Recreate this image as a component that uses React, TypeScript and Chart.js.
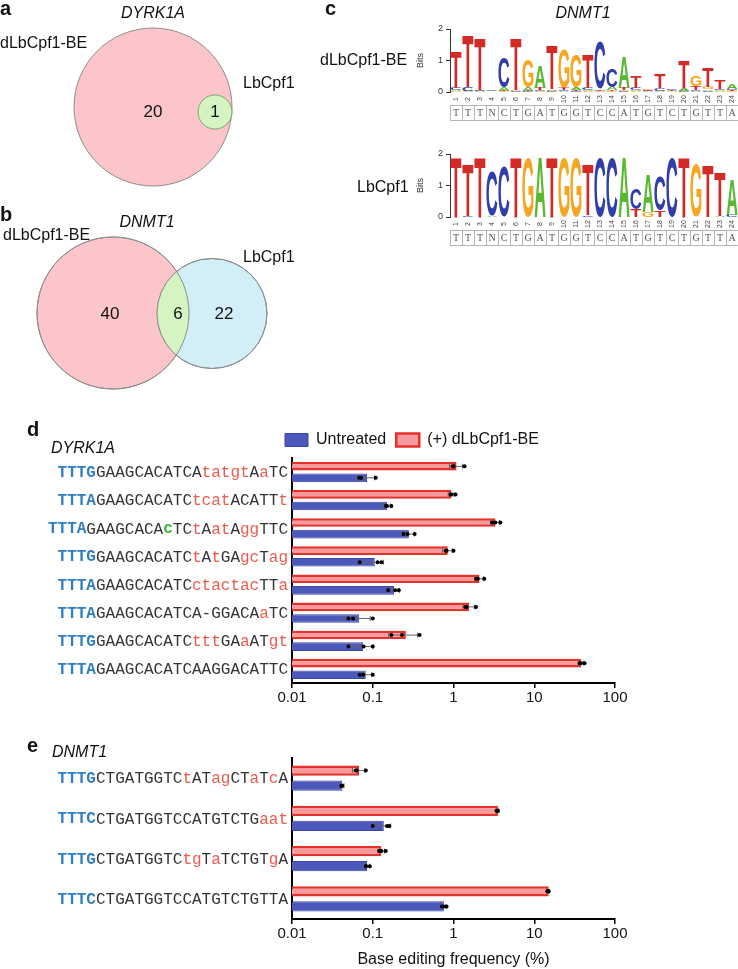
import React, { useEffect, useRef } from "react";
import { Chart, registerables } from "chart.js";
Chart.register(...registerables);

// ---------------- DATA ----------------
// Panel d (DYRK1A)
const dCategories = [
  "TTTGGAAGCACATCAtatgtAaTC",
  "TTTAGAAGCACATCtcatACATTt",
  "TTTAGAAGCACAcTCtAatAggTTC",
  "TTTGGAAGCACATCtAtGAgcTag",
  "TTTAGAAGCACATCctactacTTa",
  "TTTAGAAGCACATCA-GGACAaTC",
  "TTTGGAAGCACATCtttGAaATgt",
  "TTTAGAAGCACATCAAGGACATTC",
];
const dInserted = [-1, -1, 12, -1, -1, -1, -1, -1];
const dBE = [1.09, 0.94, 3.3, 0.85, 2.1, 1.56, 0.257, 38];
const dUntreated = [0.085, 0.15, 0.28, 0.106, 0.184, 0.068, 0.076, 0.082];
const dBEErr = [0.2, 0.08, 0.4, 0.12, 0.25, 0.25, 0.1, 3];
const dUntreatedErr = [0.02, 0.015, 0.05, 0.03, 0.03, 0.025, 0.025, 0.015];
const dBEReps = [
  [0.98, 1.0, 1.37], [0.92, 0.95, 1.06], [3.0, 3.3, 3.8], [0.8, 0.82, 1.0],
  [1.9, 2.0, 2.4], [1.4, 1.45, 1.9], [0.17, 0.23, 0.38], [36.5, 38, 42],
];
const dUntreatedReps = [
  [0.068, 0.072, 0.109], [0.145, 0.15, 0.17], [0.24, 0.27, 0.33], [0.069, 0.115, 0.128],
  [0.155, 0.19, 0.21], [0.05, 0.057, 0.1], [0.05, 0.077, 0.1], [0.069, 0.076, 0.1],
];

// Panel e (DNMT1)
const eCategories = [
  "TTTGCTGATGGTCtATagCTaTcA",
  "TTTCCTGATGGTCCATGTCTGaat",
  "TTTGCTGATGGTCtgTaTCTGTgA",
  "TTTCCTGATGGTCCATGTCTGTTA",
];
const eInserted = [-1, -1, -1, -1];
const eBE = [0.068, 3.55, 0.128, 15.1];
const eUntreated = [0.042, 0.137, 0.085, 0.76];
const eBEErr = [0.012, 0.1, 0.012, 0.3];
const eUntreatedErr = [0.002, 0.03, 0.006, 0.05];
const eBEReps = [[0.062, 0.063, 0.082], [3.4, 3.5, 3.55], [0.12, 0.128, 0.145], [14.5, 14.8, 15.1]];
const eUntreatedReps = [[0.041, 0.041, 0.042], [0.1, 0.15, 0.16], [0.082, 0.083, 0.092], [0.72, 0.76, 0.82]];

const xTicks = [0.01, 0.1, 1, 10, 100];

// Panel c (sequence logos, bits per base)
const logoPositions = ["1","2","3","4","5","6","7","8","9","10","11","12","13","14","15","16","17","18","19","20","21","22","23","24"];
const logoConsensus = ["T","T","T","N","C","T","G","A","T","G","G","T","C","C","A","T","G","T","C","T","G","T","T","A"];
const logoBases = ["A", "C", "G", "T"];
const beA = [0.04,0.02,0.02,0.01,0.12,0.01,0.1,0.7,0.05,0.03,0.08,0.03,0.02,0.1,1.0,0.03,0.02,0.02,0.02,0.08,0.03,0.05,0.03,0.18];
const beC = [0.06,0.12,0.03,0.03,0.95,0.02,0.02,0.03,0.02,0.03,0.03,0.06,1.5,0.6,0.03,0.08,0.02,0.1,0.04,0.02,0.03,0.04,0.05,0.04];
const beG = [0.03,0.02,0.02,0.01,0.02,0.02,0.88,0.02,0.02,1.2,1.05,0.04,0.02,0.02,0.03,0.03,0.05,0.02,0.01,0.02,0.35,0.08,0.03,0.02];
const beT = [1.15,1.65,1.65,0.01,0.02,1.65,0.02,0.08,1.42,0.07,0.03,1.05,0.05,0.04,0.08,0.35,0.03,0.45,0.02,0.85,0.12,0.6,0.3,0.03];
const lbA = [0,0,0,0.05,0,0,0,1.88,0,0,0,0,0,0,1.88,0,1.2,0,0,0,0,0,0.04,1.1];
const lbC = [0,0.03,0,1.4,1.58,0,0,0,0,0,0,0.05,1.88,1.88,0,0.65,0,1.1,1.88,0,0,0,0,0.06];
const lbG = [0,0,0,0,0,0,1.88,0,0,1.88,1.88,0,0,0,0,0,0.15,0,0,0,1.68,0,0,0];
const lbT = [1.88,1.66,1.88,0,0,1.88,0,0,1.88,0,0,1.62,0,0,0,0.25,0,0.2,0,1.88,0,1.66,1.42,0];

// Panels a, b (Venn diagrams) — centres in layout units, r in px
const vennBE = [{ x: 153, y: 107, r: 79 }, { x: 113, y: 313, r: 76 }];
const vennLbB = [{ x: 212, y: 313.5, r: 55 }];
const vennLbA = [{ x: 215, y: 112, r: 17 }];
const vennCounts = [
  { text: "20", x: 153, y: 112 }, { text: "1", x: 215, y: 112 },
  { text: "40", x: 110, y: 314 }, { text: "6", x: 178, y: 314 }, { text: "22", x: 224, y: 314 },
];

// ---------------- STYLE ----------------
const SANS = '"Liberation Sans", Arial, Helvetica, sans-serif';
const MONO = '"Liberation Mono", "DejaVu Sans Mono", monospace';
const RED_FILL = "#f89a9c";
const RED_EDGE = "#e6302c";
const BLUE_FILL = "#4d59ba";
const BLUE_EDGE = "#3a45a6";
const SEQ_BLUE = "#2f7fc4";
const SEQ_RED = "#ec5a4c";
const SEQ_GREEN = "#3cb43c";
const SEQ_DARK = "#333";
const LOGO_COLORS: Record<string, string> = { A: "#58b830", C: "#2f3ea8", G: "#f5a623", T: "#d42a25" };

// ---------------- PLUGINS ----------------
const seqLabelPlugin = {
  id: "seqLabels",
  afterDraw(chart: any, _a: any, opts: any) {
    const { ctx, chartArea } = chart;
    const yS = chart.scales.y;
    const inserted: number[] = opts.inserted || [];
    ctx.save();
    ctx.textBaseline = "middle";
    ctx.textAlign = "left";
    const fN = `16px ${MONO}`;
    const fB = `bold 16px ${MONO}`;
    (chart.data.labels as string[]).forEach((lab, i) => {
      const y = yS.getPixelForValue(i);
      const chars = lab.split("");
      const fonts = chars.map((c, j) => (j < 4 || j === inserted[i] ? fB : fN));
      let total = 0;
      chars.forEach((c, j) => { ctx.font = fonts[j]; total += ctx.measureText(c).width; });
      let x = chartArea.left - 4 - total;
      chars.forEach((c, j) => {
        let color = SEQ_DARK;
        if (j < 4) color = SEQ_BLUE;
        else if (j === inserted[i]) color = SEQ_GREEN;
        else if (c !== c.toUpperCase()) color = SEQ_RED;
        ctx.font = fonts[j];
        ctx.fillStyle = color;
        ctx.fillText(c, x, y + 1);
        x += ctx.measureText(c).width;
      });
    });
    ctx.restore();
  },
};

const repsPlugin = {
  id: "reps",
  afterDatasetsDraw(chart: any) {
    const { ctx } = chart;
    const xS = chart.scales.x;
    chart.data.datasets.forEach((ds: any, di: number) => {
      const meta = chart.getDatasetMeta(di);
      meta.data.forEach((bar: any, i: number) => {
        const y = bar.y;
        const mean = ds.data[i];
        const err = ds.errors[i];
        const xl = xS.getPixelForValue(Math.max(mean - err, 0.0101));
        const xr = xS.getPixelForValue(mean + err);
        ctx.save();
        ctx.strokeStyle = "#666";
        ctx.lineWidth = 1;
        ctx.beginPath();
        ctx.moveTo(xl, y); ctx.lineTo(xr, y);
        ctx.moveTo(xl, y - 2.5); ctx.lineTo(xl, y + 2.5);
        ctx.moveTo(xr, y - 2.5); ctx.lineTo(xr, y + 2.5);
        ctx.stroke();
        ctx.fillStyle = "#000";
        ds.reps[i].forEach((v: number) => {
          ctx.beginPath();
          ctx.arc(xS.getPixelForValue(v), y, 2, 0, Math.PI * 2);
          ctx.fill();
        });
        ctx.restore();
      });
    });
  },
};

function drawLetter(ctx: CanvasRenderingContext2D, L: string, x: number, y: number, w: number, h: number, color: string) {
  if (h < 0.4) return;
  ctx.save();
  ctx.font = `bold 100px ${SANS}`;
  const m = ctx.measureText(L);
  const gw = m.actualBoundingBoxLeft + m.actualBoundingBoxRight;
  const gh = m.actualBoundingBoxAscent + m.actualBoundingBoxDescent;
  ctx.translate(x, y);
  ctx.scale(w / gw, h / gh);
  ctx.fillStyle = color;
  ctx.textAlign = "left";
  ctx.textBaseline = "alphabetic";
  ctx.fillText(L, m.actualBoundingBoxLeft, m.actualBoundingBoxAscent);
  ctx.restore();
}

const logoPlugin = {
  id: "logo",
  afterDatasetsDraw(chart: any, _a: any, opts: any) {
    const { ctx, chartArea } = chart;
    const xS = chart.scales.x;
    const yS = chart.scales.y;
    const n = chart.data.labels.length;
    const step = xS.getPixelForValue(1) - xS.getPixelForValue(0);
    for (let i = 0; i < n; i++) {
      const cx = xS.getPixelForValue(i);
      const items = chart.data.datasets
        .map((ds: any) => ({ L: ds.label, v: ds.data[i] }))
        .sort((a: any, b: any) => a.v - b.v);
      let cum = 0;
      const w = step * 0.92;
      items.forEach((it: any) => {
        const yb = yS.getPixelForValue(cum);
        const yt = yS.getPixelForValue(cum + it.v);
        cum += it.v;
        drawLetter(ctx, it.L, cx - w / 2, yt, w, yb - yt, LOGO_COLORS[it.L]);
      });
      ctx.save();
      ctx.translate(cx, chartArea.bottom + 7);
      ctx.rotate(-Math.PI / 2);
      ctx.font = `7px ${SANS}`;
      ctx.fillStyle = "#444";
      ctx.textAlign = "center";
      ctx.textBaseline = "middle";
      ctx.fillText(chart.data.labels[i], 0, 0);
      ctx.restore();
      const top = chartArea.bottom + 13;
      ctx.save();
      ctx.strokeStyle = "#b5b5b5";
      ctx.lineWidth = 1;
      ctx.strokeRect(cx - step / 2 + 0.5, top + 0.5, step, 15);
      ctx.font = `10px "Liberation Serif", serif`;
      ctx.fillStyle = "#555";
      ctx.textAlign = "center";
      ctx.textBaseline = "middle";
      ctx.fillText(opts.consensus[i], cx, top + 8.5);
      ctx.restore();
    }
  },
};

const vennPlugin = {
  id: "venn",
  afterDatasetsDraw(chart: any, _a: any, opts: any) {
    const { ctx } = chart;
    const xS = chart.scales.x;
    const yS = chart.scales.y;
    const be = chart.getDatasetMeta(2).data[1];
    const lb = chart.getDatasetMeta(1).data[0];
    ctx.save();
    ctx.beginPath();
    ctx.arc(be.x, be.y, be.options.radius, 0, Math.PI * 2);
    ctx.clip();
    ctx.beginPath();
    ctx.arc(lb.x, lb.y, lb.options.radius, 0, Math.PI * 2);
    ctx.fillStyle = "#d6f3c2";
    ctx.fill();
    ctx.restore();
    ctx.save();
    ctx.strokeStyle = "#8c8c8c";
    ctx.lineWidth = 1;
    [be, lb].forEach((el: any) => {
      ctx.beginPath();
      ctx.arc(el.x, el.y, el.options.radius, 0, Math.PI * 2);
      ctx.stroke();
    });
    ctx.font = `17px ${SANS}`;
    ctx.fillStyle = "#111";
    ctx.textAlign = "center";
    ctx.textBaseline = "middle";
    opts.counts.forEach((c: any) => {
      ctx.fillText(c.text, xS.getPixelForValue(c.x), yS.getPixelForValue(c.y));
    });
    ctx.restore();
  },
};

// ---------------- CONFIGS ----------------
function barConfig(labels: string[], inserted: number[], be: number[], un: number[], beErr: number[], unErr: number[], beReps: number[][], unReps: number[][], opt: { legend: boolean; title: boolean; cat: number; bar: number; top: number; xHeight: number }) {
  return {
    type: "bar",
    data: {
      labels,
      datasets: [
        { label: "(+) dLbCpf1-BE", data: be, backgroundColor: RED_FILL, borderColor: RED_EDGE, borderWidth: 2.5, errors: beErr, reps: beReps, categoryPercentage: opt.cat, barPercentage: opt.bar },
        { label: "Untreated", data: un, backgroundColor: BLUE_FILL, borderColor: BLUE_EDGE, borderWidth: 1, errors: unErr, reps: unReps, categoryPercentage: opt.cat, barPercentage: opt.bar },
      ],
    },
    options: {
      indexAxis: "y",
      responsive: false,
      animation: false,
      layout: { padding: { left: 275, right: 123, top: opt.top, bottom: 0 } },
      plugins: {
        legend: {
          display: opt.legend,
          position: "top",
          align: "start",
          reverse: true,
          labels: { boxWidth: 23, boxHeight: 13, padding: 10, color: "#111", font: { size: 16, family: SANS } },
        },
        tooltip: { enabled: false },
        seqLabels: { inserted },
      },
      scales: {
        x: {
          type: "logarithmic",
          min: 0.01,
          max: 100,
          afterBuildTicks: (s: any) => { s.ticks = xTicks.map((v) => ({ value: v })); },
          ticks: { callback: (v: any) => String(v), font: { size: 15, family: SANS }, color: "#111", padding: 1, autoSkip: false, maxRotation: 0 },
          grid: { display: true, drawOnChartArea: false, drawTicks: true, tickLength: 5, color: "#000", lineWidth: 1.5 },
          border: { display: true, color: "#000", width: 2 },
          title: { display: opt.title, text: "Base editing frequency (%)", color: "#111", font: { size: 16, family: SANS }, padding: { top: 4, bottom: 0 } },
          afterFit: (s: any) => { s.height = opt.xHeight; },
        },
        y: {
          ticks: { display: false },
          grid: { display: false },
          border: { display: true, color: "#000", width: 2 },
          afterFit: (s: any) => { s.width = 17; },
        },
      },
    },
    plugins: [seqLabelPlugin, repsPlugin],
  };
}

function logoConfig(a: number[], c: number[], g: number[], t: number[]) {
  const arrs = [a, c, g, t];
  return {
    type: "bar",
    data: {
      labels: logoPositions,
      datasets: logoBases.map((b, k) => ({ label: b, data: arrs[k], backgroundColor: "rgba(0,0,0,0)", borderWidth: 0, categoryPercentage: 1, barPercentage: 0.92 })),
    },
    options: {
      responsive: false,
      animation: false,
      layout: { padding: { left: 15, right: 0, top: 9, bottom: 33 } },
      plugins: { legend: { display: false }, tooltip: { enabled: false }, logo: { consensus: logoConsensus } },
      scales: {
        x: { display: false, stacked: true },
        y: {
          stacked: true,
          min: 0,
          max: 2,
          ticks: { stepSize: 1, font: { size: 9, family: SANS }, color: "#333", padding: 3 },
          grid: { display: true, drawOnChartArea: false, tickLength: 4, color: "#333" },
          border: { color: "#333", width: 1 },
          title: { display: true, text: "Bits", font: { size: 9, family: SANS }, color: "#333", padding: 0 },
          afterFit: (s: any) => { s.width = 35; },
        },
      },
    },
    plugins: [logoPlugin],
  };
}

function vennConfig() {
  return {
    type: "bubble",
    data: {
      datasets: [
        { label: "LbCpf1 (DYRK1A)", data: vennLbA, backgroundColor: "#d6f3c2", borderColor: "#7f9f6f", borderWidth: 1, clip: false },
        { label: "LbCpf1 (DNMT1)", data: vennLbB, backgroundColor: "#d2eff7", borderColor: "#8c8c8c", borderWidth: 1, clip: false },
        { label: "dLbCpf1-BE", data: vennBE, backgroundColor: "#fbc5ca", borderColor: "#8c8c8c", borderWidth: 1, clip: false },
      ],
    },
    options: {
      responsive: false,
      animation: false,
      layout: { padding: 0, autoPadding: false },
      plugins: { legend: { display: false }, tooltip: { enabled: false }, venn: { counts: vennCounts } },
      scales: {
        x: { type: "linear", min: 0, max: 320, display: false, offset: false, grace: 0 },
        y: { type: "linear", min: 0, max: 400, reverse: true, display: false, offset: false, grace: 0 },
      },
    },
    plugins: [vennPlugin],
  };
}

// ---------------- COMPONENTS ----------------
function ChartCanvas({ left, top, width, height, make }: { left: number; top: number; width: number; height: number; make: () => any }) {
  const ref = useRef<HTMLCanvasElement | null>(null);
  useEffect(() => {
    if (!ref.current) return;
    const chart = new Chart(ref.current, make());
    return () => chart.destroy();
  }, []);
  return <canvas ref={ref} width={width} height={height} style={{ position: "absolute", left, top, width, height }} />;
}

function Label({ x, y, text, size = 16, bold = false, italic = false, center = false }: any) {
  return (
    <div
      style={{
        position: "absolute",
        left: x,
        top: y,
        transform: center ? "translate(-50%, -50%)" : "translateY(-50%)",
        font: `${italic ? "italic " : ""}${bold ? "bold " : ""}${size}px ${SANS}`,
        lineHeight: 1,
        whiteSpace: "nowrap",
        color: "#111",
      }}
    >
      {text}
    </div>
  );
}

export default function App() {
  return (
    <div style={{ position: "absolute", left: 0, top: 0, width: 738, height: 969, background: "#fff", overflow: "hidden" }}>
      <ChartCanvas left={0} top={0} width={320} height={400} make={vennConfig} />
      <ChartCanvas left={400} top={20} width={338} height={105} make={() => logoConfig(beA, beC, beG, beT)} />
      <ChartCanvas left={400} top={145} width={338} height={105} make={() => logoConfig(lbA, lbC, lbG, lbT)} />
      <ChartCanvas left={0} top={422} width={738} height={291}
        make={() => barConfig(dCategories, dInserted, dBE, dUntreated, dBEErr, dUntreatedErr, dBEReps, dUntreatedReps, { legend: true, title: false, cat: 0.82, bar: 0.75, top: 0, xHeight: 30 })} />
      <ChartCanvas left={0} top={750} width={738} height={219}
        make={() => barConfig(eCategories, eInserted, eBE, eUntreated, eBEErr, eUntreatedErr, eBEReps, eUntreatedReps, { legend: false, title: true, cat: 0.75, bar: 0.67, top: 8, xHeight: 50 })} />

      <Label x={0} y={8} text="a" size={20} bold />
      <Label x={153} y={13} text="DYRK1A" italic center />
      <Label x={0} y={43} text="dLbCpf1-BE" />
      <Label x={243} y={83} text="LbCpf1" />

      <Label x={0} y={214} text="b" size={20} bold />
      <Label x={147} y={222} text="DNMT1" italic center />
      <Label x={3} y={235} text="dLbCpf1-BE" />
      <Label x={243} y={257} text="LbCpf1" />

      <Label x={325} y={8} text="c" size={20} bold />
      <Label x={583} y={13} text="DNMT1" italic center />
      <Label x={320} y={60} text="dLbCpf1-BE" />
      <Label x={357} y={187} text="LbCpf1" />

      <Label x={27} y={429} text="d" size={20} bold />
      <Label x={51} y={448} text="DYRK1A" italic />

      <Label x={27} y={745} text="e" size={20} bold />
      <Label x={52} y={752} text="DNMT1" italic />
    </div>
  );
}
